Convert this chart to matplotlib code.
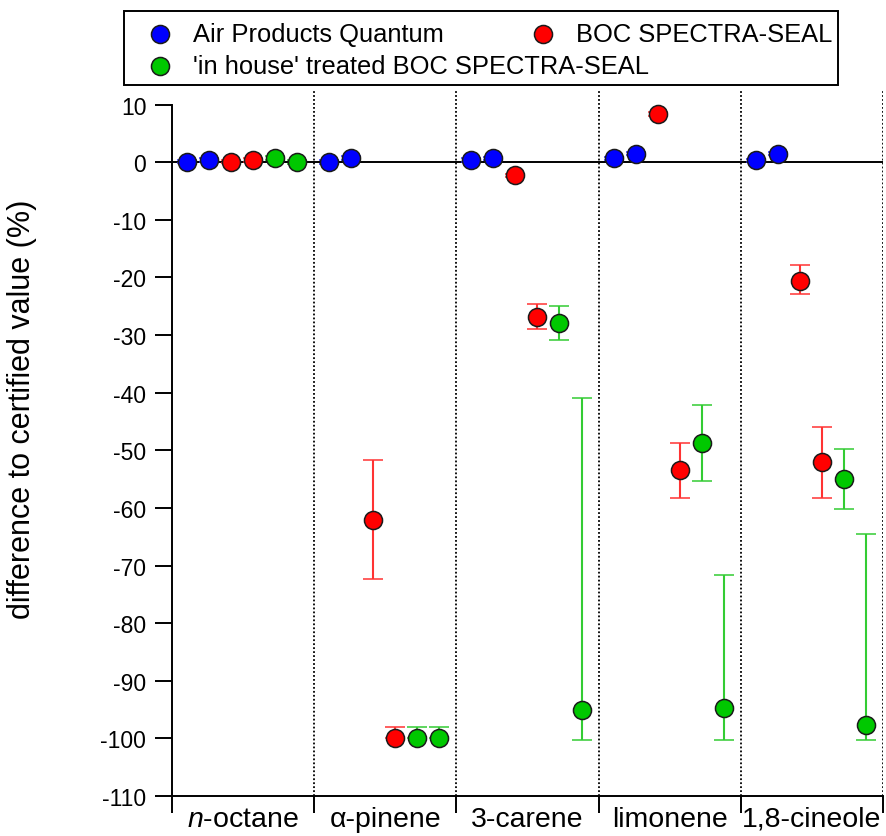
import matplotlib
matplotlib.use("Agg")
import matplotlib.pyplot as plt
from matplotlib.lines import Line2D
from matplotlib.patches import Rectangle
import numpy as np

plt.rcParams['font.family'] = ['Liberation Sans', 'DejaVu Sans']
plt.rcParams['mathtext.fontset'] = 'custom'
plt.rcParams['mathtext.rm'] = 'Liberation Sans'
plt.rcParams['mathtext.it'] = 'Liberation Sans:italic'
plt.rcParams['axes.unicode_minus'] = False

# ---- data ----
categories = ['$\\it{n}$-octane', 'α-pinene', '3-carene', 'limonene', '1,8-cineole']
series_names = ['Air Products Quantum', 'BOC SPECTRA-SEAL', "'in house' treated BOC SPECTRA-SEAL"]

# two measurements per category for each series
air_values = [[0.1, 0.4], [0.0, 0.7], [0.35, 0.65], [0.65, 1.5], [0.3, 1.5]]
air_err_hi = [[0.3, 0.3], [0.3, 0.3], [0.3, 0.3], [0.3, 0.3], [0.3, 0.3]]
air_err_lo = [[0.3, 0.3], [0.3, 0.3], [0.3, 0.3], [0.3, 0.3], [0.3, 0.3]]

boc_values = [[0.1, 0.4], [-62.1, -100.0], [-2.3, -26.8], [8.4, -53.5], [-20.6, -52.1]]
boc_err_hi = [[0.3, 0.3], [10.4, 1.9], [0.3, 2.2], [0.3, 4.7], [2.7, 6.1]]
boc_err_lo = [[0.3, 0.3], [10.2, 0.0], [0.3, 2.2], [0.3, 4.8], [2.2, 6.2]]

inhouse_values = [[0.75, 0.0], [-100.0, -100.0], [-27.9, -95.0], [-48.8, -94.7], [-55.0, -97.6]]
inhouse_err_hi = [[0.3, 0.3], [1.9, 1.9], [3.0, 54.0], [6.6, 23.1], [5.2, 33.0]]
inhouse_err_lo = [[0.3, 0.3], [0.0, 0.0], [3.0, 5.2], [6.6, 5.5], [5.2, 2.6]]

marker_colors = ['#0000ff', '#ff0000', '#00c800']
bar_colors = ['#3333ff', '#ff3333', '#33cc33']
yticks = list(range(-110, 11, 10))

# ---- figure ----
fig = plt.figure(figsize=(8.86, 8.37), dpi=100)
W, H = 886, 837
ax = fig.add_axes([172 / W, 1 - 797 / H, (883 - 172) / W, (797 - 90) / H])

n_cat = len(categories)
first_off, step = 0.105, 0.155
series = [(air_values, air_err_lo, air_err_hi),
          (boc_values, boc_err_lo, boc_err_hi),
          (inhouse_values, inhouse_err_lo, inhouse_err_hi)]

for s, (vals, elo, ehi) in enumerate(series):
    v = np.array(vals)
    lo = np.array(elo)
    hi = np.array(ehi)
    for m in range(2):
        slot = 2 * s + m
        x = np.arange(n_cat) + first_off + step * slot
        ax.errorbar(x, v[:, m], yerr=[lo[:, m], hi[:, m]], fmt='o',
                    color=bar_colors[s], ecolor=bar_colors[s], elinewidth=1.5,
                    capsize=7.5, capthick=1.5,
                    marker='o', markersize=13, markerfacecolor=marker_colors[s],
                    markeredgecolor='#1a1a1a', markeredgewidth=1.1, zorder=3)

ax.axhline(0, color='black', lw=1.4, zorder=2)
for b in range(1, n_cat + 1):
    ax.axvline(b, color='black', lw=1.3, ls=(0, (1, 1.2)), zorder=1)

ax.set_xlim(0, n_cat)
ax.set_ylim(-110, 12.7)

for sp in ['top', 'right']:
    ax.spines[sp].set_visible(False)
ax.spines['left'].set_bounds(-110, 10)
ax.spines['left'].set_linewidth(1.4)
ax.spines['bottom'].set_linewidth(1.4)

ax.set_yticks(yticks)
ax.set_yticklabels([str(t) for t in yticks])
ax.tick_params(axis='y', direction='out', length=12.5, width=1.4, pad=6, labelsize=16.5)

ax.set_xticks(np.arange(n_cat + 1))
ax.set_xticklabels([''] * (n_cat + 1))
ax.set_xticks(np.arange(n_cat) + 0.5, minor=True)
ax.set_xticklabels(categories, minor=True)
ax.tick_params(axis='x', which='major', direction='out', length=12, width=1.4)
ax.tick_params(axis='x', which='minor', length=0, pad=7, labelsize=20.5)

ax.set_ylabel('difference to certified value (%)', fontsize=22)
ax.yaxis.set_label_coords(-0.19, 0.549)

# ---- legend box (figure coordinates) ----
fig.add_artist(Rectangle((124 / W, 1 - 86 / H), (838 - 124) / W, (86 - 12) / H,
                         transform=fig.transFigure, facecolor='white',
                         edgecolor='black', lw=1.4))
legend_pos = [(160, 35), (543, 35), (160, 67)]
for s, (px, py) in enumerate(legend_pos):
    fig.add_artist(Line2D([px / W], [1 - py / H], transform=fig.transFigure,
                          marker='o', markersize=13, markerfacecolor=marker_colors[s],
                          markeredgecolor='#1a1a1a', markeredgewidth=1.1, ls='none'))
    fig.text((px + 33) / W, 1 - py / H, series_names[s], fontsize=18.4,
             ha='left', va='center')

fig.savefig('out.png', dpi=100)
